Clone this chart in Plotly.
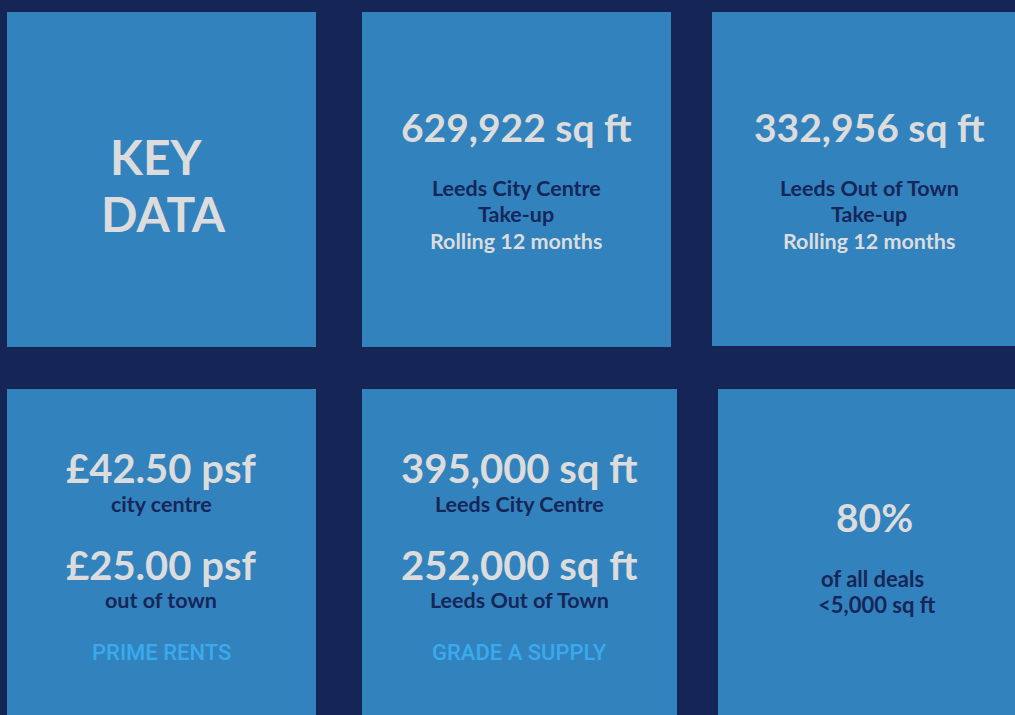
import plotly.graph_objects as go

# ---- data ----
headline_title = ["KEY", "DATA"]
takeup_values = ["629,922 sq ft", "332,956 sq ft"]
takeup_areas = ["Leeds City Centre", "Leeds Out of Town"]
takeup_labels = ["Take-up", "Rolling 12 months"]
rent_values = ["£42.50 psf", "£25.00 psf"]
rent_areas = ["city centre", "out of town"]
rent_title = "PRIME RENTS"
supply_values = ["395,000 sq ft", "252,000 sq ft"]
supply_areas = ["Leeds City Centre", "Leeds Out of Town"]
supply_title = "GRADE A SUPPLY"
deal_share = "80%"
deal_labels = ["of all deals", "<5,000 sq ft"]

W, H = 1015, 715
BG = "#152656"
BOX = "#3282BE"
LIGHT = "#DCDCDC"
DARK = "#162658"
ACCENT = "#3AAAEC"
FONT = "Lato"

boxes = [
    (7, 12, 316, 347), (362, 12, 671, 347), (712, 12, 1015, 346),
    (7, 389, 316, 715), (362, 389, 677, 715), (718, 389, 1015, 715),
]

fig = go.Figure()
for x0, y0, x1, y1 in boxes:
    fig.add_shape(type="rect", x0=x0, y0=y0, x1=x1, y1=y1, xref="x", yref="y",
                  fillcolor=BOX, line=dict(width=0), layer="below")

def txt(x, y, s, size, color, weight="normal", family=FONT):
    fig.add_annotation(x=x, y=y, text=s, showarrow=False, xref="x", yref="y",
                       xanchor="center", yanchor="middle",
                       font=dict(family=family, size=size, color=color, weight=weight))

# Key data
txt(156, 156, headline_title[0], 48, LIGHT, "bold")
txt(163, 213, headline_title[1], 48, LIGHT, "bold")

# take-up boxes
for cx, val, area in zip([516, 869], takeup_values, takeup_areas):
    txt(cx, 127, val, 39, LIGHT, "bold")
    txt(cx, 188, area, 21.5, DARK, "bold")
    txt(cx, 214, takeup_labels[0], 21.5, DARK, "bold")
    txt(cx, 241, takeup_labels[1], 21.5, LIGHT, "bold")

# rents
for y_v, y_a, val, area in zip([468, 565], [504, 600], rent_values, rent_areas):
    txt(161, y_v, val, 40, LIGHT, "bold")
    txt(161, y_a, area, 21.5, DARK, "bold")
txt(161, 652, rent_title, 22, ACCENT, 500, "Roboto")

# supply
for y_v, y_a, val, area in zip([468, 565], [504, 600], supply_values, supply_areas):
    txt(519, y_v, val, 40, LIGHT, "bold")
    txt(519, y_a, area, 21.5, DARK, "bold")
txt(519, 652, supply_title, 22, ACCENT, 500, "Roboto")

# deals
txt(874, 517, deal_share, 39, LIGHT, "bold")
txt(872, 578, deal_labels[0], 22, DARK, "bold")
txt(877, 604, deal_labels[1], 22, DARK, "bold")

fig.update_layout(
    width=W, height=H, margin=dict(l=0, r=0, t=0, b=0),
    paper_bgcolor=BG, plot_bgcolor=BG, showlegend=False,
    xaxis=dict(range=[0, W], visible=False, fixedrange=True),
    yaxis=dict(range=[H, 0], visible=False, fixedrange=True),
)
fig.write_html("out.html", config={"displayModeBar": False},
               post_script="document.body.style.margin='0';document.body.style.overflow='hidden';")
